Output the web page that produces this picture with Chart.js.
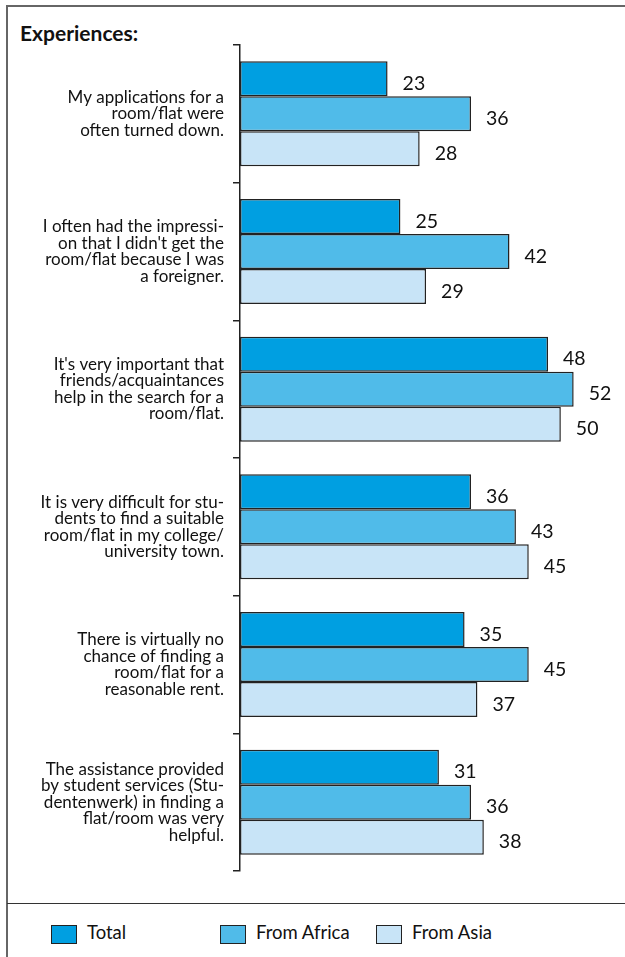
<!DOCTYPE html>
<html>
<head>
<meta charset="utf-8">
<script src="https://cdn.jsdelivr.net/npm/chart.js@4/dist/chart.umd.min.js"></script>
<style>
  html, body { margin: 0; padding: 0; background: #fff; }
  body { width: 625px; height: 957px; position: relative; overflow: hidden; font-family: Lato, sans-serif; }
  #frame { position: absolute; left: 6px; top: 5px; width: 630px; height: 960px; border-left: 2px solid #666; border-top: 2px solid #666; }
  #sep { position: absolute; left: 7px; top: 903px; width: 620px; height: 0; border-top: 1.5px solid #333; }
  #title { position: absolute; left: 20px; top: 20px; font-weight: bold; font-size: 21px; color: #111; }
  #chartbox { position: absolute; left: 0; top: 0; width: 625px; height: 880px; }
  .lg { position: absolute; top: 924px; font-size: 18.5px; color: #111; }
  .lg span.box { position: absolute; top: 1px; width: 24px; height: 17px; border: 1.5px solid #222; }
  .lg span.txt { position: absolute; top: -3px; white-space: nowrap; }
</style>
</head>
<body>
<div id="frame"></div>
<div id="title">Experiences:</div>
<div id="chartbox"><canvas id="myChart" width="625" height="880"></canvas></div>
<div id="sep"></div>
<div id="legend"></div>
<script>
var categorias = [
  ['My applications for a', 'room/flat were', 'often turned down.'],
  ['I often had the impressi-', "on that I didn't get the", 'room/flat because I was', 'a foreigner.'],
  ["It's very important that", 'friends/acquaintances', 'help in the search for a', 'room/flat.'],
  ['It is very difficult for stu-', 'dents to find a suitable', 'room/flat in my college/', 'university town.'],
  ['There is virtually no', 'chance of finding a', 'room/flat for a', 'reasonable rent.'],
  ['The assistance provided', 'by student services (Stu-', 'dentenwerk) in finding a', 'flat/room was very', 'helpful.']
];
var series = ['Total', 'From Africa', 'From Asia'];
var total  = [23, 25, 48, 36, 35, 31];
var africa = [36, 42, 52, 43, 45, 36];
var asia   = [28, 29, 50, 45, 37, 38];
var colores = ['#009fe1', '#50bbe9', '#c8e4f7'];

// leyenda en html
var legendX = [51, 220, 376];
var lg = document.getElementById('legend');
series.forEach(function (s, i) {
  var d = document.createElement('div');
  d.className = 'lg';
  d.style.left = legendX[i] + 'px';
  d.innerHTML = '<span class="box" style="left:0;background:' + colores[i] + '"></span>' +
                '<span class="txt" style="left:36px">' + s + '</span>';
  lg.appendChild(d);
});

// numeros al final de cada barra
var etiquetas = {
  id: 'etiquetas',
  afterDatasetsDraw: function (chart) {
    var ctx = chart.ctx;
    ctx.save();
    ctx.font = '19.5px Lato';
    ctx.fillStyle = '#111';
    ctx.textBaseline = 'middle';
    chart.data.datasets.forEach(function (ds, i) {
      chart.getDatasetMeta(i).data.forEach(function (bar, j) {
        ctx.fillText(ds.data[j], bar.x + 15, bar.y + 5);
      });
    });
    ctx.restore();
  }
};

var valores = [total, africa, asia];
var ctx = document.getElementById('myChart');
new Chart(ctx, {
  type: 'bar',
  data: {
    labels: categorias,
    datasets: series.map(function (s, i) {
      return {
        label: s,
        data: valores[i],
        backgroundColor: colores[i],
        borderColor: '#222',
        borderWidth: 1.5,
        borderSkipped: false,
        categoryPercentage: 0.763,
        barPercentage: 1
      };
    })
  },
  plugins: [etiquetas],
  options: {
    indexAxis: 'y',
    responsive: false,
    animation: false,
    maintainAspectRatio: false,
    layout: { padding: { top: 45, bottom: 9, left: 0, right: 0 } },
    plugins: { legend: { display: false }, tooltip: { enabled: false } },
    scales: {
      x: { display: false, min: 0, max: 60 },
      y: {
        afterFit: function (scale) {
          scale.width = 240;
          scale.paddingTop = 0;
          scale.paddingBottom = 0;
        },
        grid: { offset: true, drawOnChartArea: false, drawTicks: true, tickLength: 7, color: '#222', lineWidth: 1.5 },
        border: { display: true, color: '#222', width: 1.5 },
        ticks: { padding: 9, color: '#111', font: { family: 'Lato', size: 17, lineHeight: 0.97 } }
      }
    }
  }
});
</script>
</body>
</html>
